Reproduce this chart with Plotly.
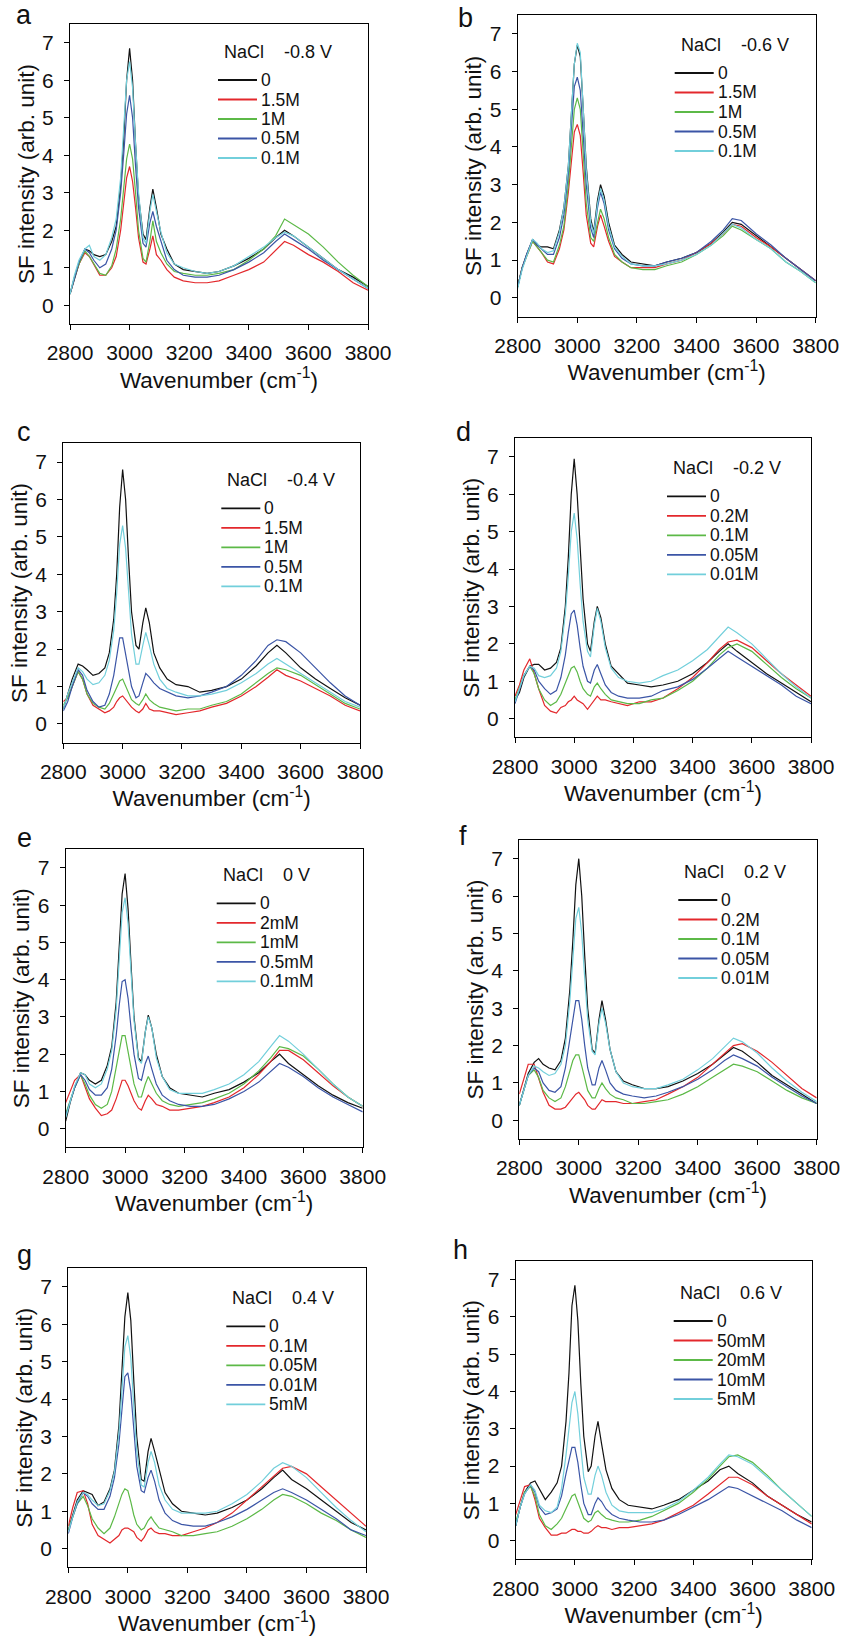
import plotly.graph_objects as go

W, H = 845, 1637

# Shared wavenumber grid (cm^-1)
wavenumber = [2800, 2815, 2830, 2850, 2865, 2880, 2900, 2920, 2940, 2955,
              2970, 2980, 2990, 3000, 3010, 3020, 3030, 3045, 3055, 3068,
              3078, 3090, 3105, 3125, 3150, 3180, 3220, 3260, 3300, 3350,
              3400, 3450, 3490, 3520, 3550, 3600, 3650, 3700, 3750, 3800]

panel_letters = ["a", "b", "c", "d", "e", "f", "g", "h"]
potentials = ["-0.8 V", "-0.6 V", "-0.4 V", "-0.2 V", "0 V", "0.2 V", "0.4 V", "0.6 V"]
concentrations = [
    ["0", "1.5M", "1M", "0.5M", "0.1M"],
    ["0", "1.5M", "1M", "0.5M", "0.1M"],
    ["0", "1.5M", "1M", "0.5M", "0.1M"],
    ["0", "0.2M", "0.1M", "0.05M", "0.01M"],
    ["0", "2mM", "1mM", "0.5mM", "0.1mM"],
    ["0", "0.2M", "0.1M", "0.05M", "0.01M"],
    ["0", "0.1M", "0.05M", "0.01M", "5mM"],
    ["0", "50mM", "20mM", "10mM", "5mM"],
]

# ---- panel a (-0.8 V) ----
a_0 = [0.3, 0.7, 1.1, 1.5, 1.45, 1.35, 1.3, 1.35, 1.7, 2.1, 3.2, 4.4, 6.0, 6.85, 6.0, 4.3, 2.9, 1.9, 1.75, 2.6, 3.1, 2.6, 1.9, 1.5, 1.1, 0.95, 0.9, 0.85, 0.9, 1.05, 1.25, 1.5, 1.8, 2.0, 1.85, 1.55, 1.25, 0.95, 0.75, 0.5]
a_1 = [0.3, 0.75, 1.1, 1.4, 1.3, 1.1, 0.8, 0.8, 1.0, 1.3, 2.0, 2.7, 3.4, 3.7, 3.3, 2.6, 1.8, 1.15, 1.1, 1.5, 1.85, 1.35, 1.2, 0.95, 0.75, 0.65, 0.6, 0.6, 0.65, 0.8, 0.95, 1.15, 1.45, 1.7, 1.6, 1.35, 1.15, 0.9, 0.6, 0.4]
a_2 = [0.3, 0.75, 1.1, 1.45, 1.3, 1.1, 0.85, 0.8, 1.05, 1.5, 2.3, 3.1, 3.9, 4.3, 3.9, 3.0, 2.0, 1.25, 1.15, 1.7, 2.25, 1.7, 1.4, 1.1, 0.9, 0.85, 0.8, 0.8, 0.85, 0.95, 1.2, 1.5, 1.85, 2.3, 2.15, 1.9, 1.55, 1.15, 0.8, 0.5]
a_3 = [0.3, 0.75, 1.15, 1.5, 1.4, 1.2, 1.0, 1.1, 1.5, 2.0, 3.0, 4.0, 5.1, 5.6, 5.0, 3.7, 2.6, 1.65, 1.55, 2.2, 2.5, 2.1, 1.7, 1.2, 0.95, 0.8, 0.75, 0.75, 0.8, 0.95, 1.15, 1.4, 1.7, 1.9, 1.75, 1.5, 1.2, 0.95, 0.7, 0.45]
a_4 = [0.3, 0.8, 1.2, 1.5, 1.6, 1.3, 1.2, 1.35, 1.8, 2.3, 3.4, 4.6, 6.0, 6.5, 5.8, 4.3, 3.0, 1.8, 1.65, 2.5, 2.95, 2.5, 1.95, 1.4, 1.1, 1.0, 0.9, 0.85, 0.9, 1.05, 1.3, 1.55, 1.8, 1.95, 1.85, 1.55, 1.25, 0.95, 0.7, 0.45]

# ---- panel b (-0.6 V) ----
b_0 = [0.3, 0.8, 1.15, 1.55, 1.4, 1.35, 1.35, 1.3, 1.8, 2.4, 3.5, 4.8, 6.2, 6.7, 6.4, 5.0, 3.5, 2.1, 1.75, 2.6, 3.0, 2.7, 2.0, 1.4, 1.15, 0.95, 0.9, 0.85, 0.95, 1.05, 1.2, 1.45, 1.75, 2.0, 1.95, 1.65, 1.35, 1.05, 0.75, 0.45]
b_1 = [0.3, 0.8, 1.1, 1.5, 1.35, 1.2, 0.95, 0.9, 1.3, 1.8, 2.8, 3.6, 4.4, 4.6, 4.3, 3.3, 2.2, 1.45, 1.35, 1.9, 2.2, 1.9, 1.5, 1.1, 0.95, 0.8, 0.8, 0.8, 0.9, 1.0, 1.2, 1.45, 1.7, 1.95, 1.9, 1.6, 1.35, 1.05, 0.75, 0.45]
b_2 = [0.3, 0.8, 1.1, 1.5, 1.35, 1.2, 1.0, 0.95, 1.4, 1.9, 3.0, 4.0, 5.0, 5.3, 5.0, 3.8, 2.5, 1.6, 1.5, 2.0, 2.35, 2.1, 1.6, 1.15, 0.95, 0.8, 0.75, 0.75, 0.85, 0.95, 1.15, 1.4, 1.65, 1.9, 1.8, 1.55, 1.3, 0.95, 0.7, 0.4]
b_3 = [0.3, 0.8, 1.15, 1.55, 1.4, 1.3, 1.15, 1.15, 1.6, 2.2, 3.3, 4.5, 5.6, 5.85, 5.5, 4.3, 3.0, 1.85, 1.6, 2.4, 2.8, 2.5, 1.8, 1.3, 1.05, 0.9, 0.85, 0.85, 0.95, 1.05, 1.2, 1.5, 1.8, 2.1, 2.05, 1.7, 1.4, 1.05, 0.75, 0.45]
b_4 = [0.25, 0.75, 1.1, 1.55, 1.45, 1.3, 1.2, 1.25, 1.75, 2.4, 3.5, 4.8, 6.2, 6.75, 6.5, 5.0, 3.4, 2.0, 1.7, 2.5, 2.9, 2.6, 1.9, 1.35, 1.1, 0.9, 0.85, 0.85, 0.9, 1.0, 1.15, 1.4, 1.7, 1.95, 1.85, 1.55, 1.3, 0.95, 0.7, 0.4]

# ---- panel c (-0.4 V) ----
c_0 = [0.4, 0.8, 1.2, 1.6, 1.55, 1.45, 1.3, 1.35, 1.5, 1.9, 2.8, 4.0, 5.8, 6.8, 6.0, 4.4, 3.0, 2.1, 2.0, 2.7, 3.1, 2.7, 1.9, 1.5, 1.2, 1.05, 1.0, 0.85, 0.9, 1.0, 1.2, 1.55, 1.9, 2.1, 1.9, 1.5, 1.2, 0.95, 0.7, 0.5]
c_1 = [0.6, 0.7, 1.0, 1.4, 1.2, 0.8, 0.5, 0.4, 0.3, 0.35, 0.45, 0.6, 0.7, 0.75, 0.65, 0.55, 0.45, 0.35, 0.3, 0.4, 0.55, 0.4, 0.35, 0.35, 0.3, 0.25, 0.3, 0.35, 0.45, 0.55, 0.75, 1.0, 1.25, 1.45, 1.3, 1.15, 0.95, 0.75, 0.5, 0.35]
c_2 = [0.5, 0.7, 1.0, 1.4, 1.2, 0.8, 0.55, 0.45, 0.4, 0.55, 0.8, 1.0, 1.15, 1.2, 1.0, 0.85, 0.65, 0.55, 0.5, 0.65, 0.8, 0.65, 0.55, 0.45, 0.4, 0.35, 0.4, 0.4, 0.5, 0.6, 0.8, 1.1, 1.35, 1.5, 1.45, 1.3, 1.05, 0.8, 0.55, 0.4]
c_3 = [0.35, 0.6, 1.0, 1.45, 1.3, 0.9, 0.6, 0.45, 0.5, 0.8, 1.3, 1.8, 2.3, 2.3, 1.9, 1.4, 1.0, 0.7, 0.75, 1.1, 1.35, 1.25, 1.1, 0.95, 0.85, 0.75, 0.7, 0.75, 0.85, 1.0, 1.3, 1.7, 2.1, 2.25, 2.2, 1.9, 1.5, 1.1, 0.75, 0.5]
c_4 = [0.4, 0.8, 1.1, 1.5, 1.4, 1.2, 1.05, 1.1, 1.3, 1.7, 2.5, 3.5, 4.8, 5.3, 4.7, 3.4, 2.4, 1.6, 1.6, 2.1, 2.45, 2.1, 1.6, 1.2, 0.95, 0.85, 0.75, 0.75, 0.8, 0.9, 1.1, 1.35, 1.6, 1.75, 1.6, 1.35, 1.1, 0.85, 0.6, 0.45]

# ---- panel d (-0.2 V) ----
d_0 = [0.5, 0.7, 1.1, 1.4, 1.45, 1.45, 1.3, 1.35, 1.5, 1.9, 3.0, 4.3, 6.0, 6.95, 6.0, 4.5, 3.2, 2.0, 1.8, 2.6, 3.0, 2.7, 2.0, 1.4, 1.2, 0.95, 0.9, 0.85, 0.9, 1.0, 1.2, 1.5, 1.8, 2.0, 1.8, 1.5, 1.2, 0.95, 0.7, 0.45]
d_1 = [0.6, 0.9, 1.3, 1.6, 1.2, 0.8, 0.35, 0.2, 0.15, 0.3, 0.35, 0.45, 0.5, 0.6, 0.5, 0.45, 0.4, 0.25, 0.35, 0.5, 0.6, 0.5, 0.5, 0.45, 0.4, 0.35, 0.45, 0.45, 0.55, 0.8, 1.1, 1.5, 1.85, 2.05, 2.1, 1.9, 1.55, 1.2, 0.9, 0.6]
d_2 = [0.5, 0.8, 1.15, 1.4, 1.2, 0.8, 0.5, 0.35, 0.45, 0.65, 0.95, 1.2, 1.35, 1.4, 1.25, 1.0, 0.8, 0.65, 0.6, 0.85, 0.95, 0.8, 0.65, 0.5, 0.45, 0.4, 0.4, 0.5, 0.55, 0.75, 1.0, 1.35, 1.7, 1.9, 2.0, 1.8, 1.45, 1.1, 0.8, 0.55]
d_3 = [0.4, 0.8, 1.15, 1.4, 1.3, 1.0, 0.8, 0.65, 0.75, 1.1, 1.7, 2.3, 2.8, 2.9, 2.5, 1.9, 1.4, 1.0, 0.95, 1.3, 1.45, 1.2, 0.9, 0.7, 0.6, 0.55, 0.55, 0.6, 0.75, 0.85, 1.05, 1.35, 1.6, 1.8, 1.65, 1.4, 1.15, 0.9, 0.6, 0.4]
d_4 = [0.45, 0.8, 1.15, 1.4, 1.35, 1.15, 1.1, 1.15, 1.35, 1.8, 2.8, 3.8, 5.0, 5.5, 4.8, 3.6, 2.6, 1.8, 1.65, 2.5, 2.95, 2.6, 1.9, 1.35, 1.1, 1.0, 0.95, 1.0, 1.15, 1.3, 1.55, 1.85, 2.2, 2.45, 2.3, 2.0, 1.6, 1.2, 0.85, 0.55]

# ---- panel e (0 V) ----
e_0 = [0.2, 0.7, 1.1, 1.5, 1.45, 1.3, 1.2, 1.3, 1.7, 2.2, 3.4, 4.8, 6.3, 6.85, 5.9, 4.4, 3.0, 1.9, 1.8, 2.6, 3.05, 2.7, 2.0, 1.4, 1.1, 0.95, 0.9, 0.85, 0.95, 1.05, 1.25, 1.5, 1.8, 2.0, 1.75, 1.45, 1.15, 0.9, 0.7, 0.55]
e_1 = [0.7, 1.0, 1.3, 1.45, 1.1, 0.8, 0.55, 0.35, 0.4, 0.5, 0.8, 1.05, 1.3, 1.3, 1.15, 0.95, 0.75, 0.55, 0.5, 0.75, 0.9, 0.8, 0.65, 0.6, 0.5, 0.5, 0.55, 0.6, 0.7, 0.85, 1.1, 1.45, 1.8, 2.1, 2.1, 1.85, 1.5, 1.15, 0.85, 0.6]
e_2 = [0.4, 0.75, 1.1, 1.45, 1.2, 0.9, 0.65, 0.55, 0.65, 1.0, 1.6, 2.1, 2.5, 2.5, 2.1, 1.6, 1.2, 0.85, 0.85, 1.2, 1.4, 1.2, 0.95, 0.75, 0.65, 0.6, 0.65, 0.7, 0.8, 0.95, 1.2, 1.55, 1.9, 2.2, 2.15, 1.95, 1.6, 1.2, 0.85, 0.6]
e_3 = [0.35, 0.75, 1.1, 1.45, 1.3, 1.05, 0.9, 0.9, 1.1, 1.6, 2.5, 3.3, 3.95, 4.0, 3.5, 2.7, 2.0, 1.35, 1.3, 1.75, 1.95, 1.6, 1.2, 0.9, 0.75, 0.65, 0.6, 0.6, 0.65, 0.8, 1.0, 1.25, 1.55, 1.75, 1.65, 1.4, 1.1, 0.85, 0.65, 0.45]
e_4 = [0.3, 0.75, 1.15, 1.5, 1.45, 1.2, 1.1, 1.2, 1.6, 2.1, 3.2, 4.5, 5.8, 6.2, 5.5, 4.2, 2.9, 1.85, 1.75, 2.6, 3.0, 2.7, 1.9, 1.4, 1.05, 0.95, 0.95, 0.95, 1.05, 1.2, 1.45, 1.8, 2.2, 2.5, 2.35, 2.0, 1.6, 1.2, 0.85, 0.6]

# ---- panel f (0.2 V) ----
f_0 = [0.4, 0.8, 1.25, 1.55, 1.65, 1.5, 1.4, 1.35, 1.6, 2.2, 3.5, 4.8, 6.3, 7.0, 6.0, 4.4, 3.0, 1.9, 1.8, 2.7, 3.2, 2.7, 1.9, 1.3, 1.05, 0.95, 0.85, 0.85, 0.9, 1.05, 1.25, 1.5, 1.75, 1.95, 1.85, 1.55, 1.2, 0.95, 0.7, 0.45]
f_1 = [0.7, 1.1, 1.5, 1.5, 1.1, 0.75, 0.4, 0.3, 0.3, 0.35, 0.5, 0.6, 0.7, 0.75, 0.65, 0.55, 0.4, 0.3, 0.3, 0.45, 0.55, 0.5, 0.5, 0.5, 0.45, 0.45, 0.5, 0.55, 0.7, 0.9, 1.15, 1.5, 1.8, 2.0, 2.05, 1.85, 1.55, 1.2, 0.85, 0.6]
f_2 = [0.4, 0.8, 1.2, 1.35, 1.15, 0.8, 0.6, 0.5, 0.6, 0.9, 1.3, 1.6, 1.75, 1.75, 1.45, 1.1, 0.8, 0.6, 0.6, 0.85, 1.0, 0.85, 0.7, 0.6, 0.55, 0.45, 0.45, 0.5, 0.55, 0.7, 0.9, 1.15, 1.35, 1.5, 1.45, 1.3, 1.05, 0.8, 0.6, 0.45]
f_3 = [0.4, 0.8, 1.2, 1.4, 1.3, 1.0, 0.8, 0.75, 0.9, 1.4, 2.2, 2.8, 3.2, 3.2, 2.7, 2.0, 1.4, 0.95, 0.95, 1.4, 1.6, 1.35, 1.0, 0.8, 0.7, 0.65, 0.6, 0.65, 0.75, 0.9, 1.1, 1.35, 1.6, 1.75, 1.65, 1.45, 1.15, 0.9, 0.65, 0.45]
f_4 = [0.4, 0.8, 1.2, 1.45, 1.4, 1.3, 1.2, 1.25, 1.5, 2.0, 3.2, 4.3, 5.4, 5.7, 5.0, 3.8, 2.7, 1.85, 1.75, 2.6, 3.0, 2.6, 1.9, 1.3, 1.0, 0.9, 0.85, 0.85, 0.95, 1.1, 1.35, 1.65, 1.95, 2.2, 2.1, 1.8, 1.4, 1.05, 0.75, 0.5]

# ---- panel g (0.4 V) ----
g_0 = [0.5, 0.9, 1.3, 1.55, 1.5, 1.45, 1.15, 1.25, 1.6, 2.1, 3.3, 4.6, 6.2, 6.85, 6.1, 4.5, 3.0, 1.85, 1.8, 2.6, 2.95, 2.6, 2.1, 1.5, 1.2, 1.0, 0.95, 0.9, 0.95, 1.1, 1.3, 1.6, 1.9, 2.1, 1.85, 1.6, 1.3, 1.0, 0.7, 0.5]
g_1 = [0.6, 1.1, 1.5, 1.55, 1.2, 0.65, 0.35, 0.25, 0.15, 0.25, 0.35, 0.5, 0.55, 0.55, 0.5, 0.45, 0.3, 0.2, 0.3, 0.5, 0.55, 0.45, 0.4, 0.4, 0.35, 0.35, 0.45, 0.55, 0.7, 0.95, 1.3, 1.65, 1.95, 2.15, 2.2, 2.0, 1.65, 1.3, 0.95, 0.6]
g_2 = [0.5, 0.85, 1.2, 1.4, 1.15, 0.8, 0.55, 0.4, 0.55, 0.85, 1.2, 1.45, 1.6, 1.55, 1.25, 0.9, 0.65, 0.5, 0.55, 0.75, 0.85, 0.7, 0.55, 0.5, 0.45, 0.35, 0.35, 0.4, 0.45, 0.6, 0.8, 1.05, 1.3, 1.45, 1.4, 1.2, 0.95, 0.75, 0.5, 0.3]
g_3 = [0.4, 0.85, 1.2, 1.5, 1.4, 1.2, 1.05, 1.05, 1.4, 1.9, 2.8, 3.7, 4.6, 4.7, 4.2, 3.2, 2.2, 1.55, 1.5, 1.9, 2.1, 1.8, 1.3, 0.95, 0.75, 0.65, 0.6, 0.6, 0.7, 0.85, 1.05, 1.3, 1.5, 1.6, 1.5, 1.3, 1.05, 0.8, 0.5, 0.35]
g_4 = [0.45, 0.85, 1.25, 1.5, 1.45, 1.3, 1.15, 1.2, 1.55, 2.05, 3.1, 4.2, 5.4, 5.7, 5.1, 3.8, 2.6, 1.7, 1.65, 2.3, 2.6, 2.3, 1.7, 1.3, 1.05, 0.95, 0.95, 0.95, 1.0, 1.2, 1.45, 1.8, 2.15, 2.3, 2.2, 1.9, 1.5, 1.1, 0.75, 0.45]

# ---- panel h (0.6 V) ----
h_0 = [0.4, 0.9, 1.3, 1.55, 1.6, 1.4, 1.1, 1.3, 1.55, 2.0, 3.2, 4.5, 6.3, 6.85, 5.9, 4.2, 2.8, 1.85, 2.0, 2.8, 3.2, 2.6, 1.9, 1.4, 1.1, 0.95, 0.9, 0.85, 0.95, 1.1, 1.35, 1.6, 1.9, 2.0, 1.8, 1.55, 1.2, 0.95, 0.7, 0.5]
h_1 = [0.7, 1.1, 1.45, 1.5, 1.1, 0.6, 0.35, 0.15, 0.15, 0.2, 0.2, 0.25, 0.3, 0.3, 0.25, 0.25, 0.2, 0.2, 0.25, 0.35, 0.4, 0.35, 0.35, 0.3, 0.35, 0.35, 0.4, 0.45, 0.55, 0.75, 0.95, 1.25, 1.5, 1.7, 1.7, 1.5, 1.2, 0.95, 0.7, 0.45]
h_2 = [0.5, 0.9, 1.3, 1.45, 1.2, 0.7, 0.4, 0.3, 0.45, 0.6, 0.85, 1.05, 1.2, 1.25, 1.05, 0.8, 0.6, 0.5, 0.55, 0.75, 0.8, 0.7, 0.6, 0.55, 0.5, 0.5, 0.55, 0.65, 0.8, 1.0, 1.3, 1.65, 2.0, 2.25, 2.3, 2.1, 1.75, 1.35, 1.0, 0.65]
h_3 = [0.4, 0.9, 1.25, 1.5, 1.3, 0.9, 0.7, 0.75, 0.85, 1.2, 1.8, 2.2, 2.5, 2.5, 2.1, 1.5, 1.0, 0.7, 0.7, 1.0, 1.15, 1.05, 0.85, 0.7, 0.6, 0.55, 0.5, 0.5, 0.55, 0.7, 0.9, 1.1, 1.3, 1.45, 1.4, 1.2, 1.0, 0.8, 0.55, 0.35]
h_4 = [0.4, 0.9, 1.25, 1.5, 1.35, 0.95, 0.8, 0.75, 0.9, 1.4, 2.3, 3.0, 3.7, 4.0, 3.4, 2.5, 1.7, 1.25, 1.25, 1.75, 2.0, 1.75, 1.3, 0.95, 0.8, 0.75, 0.75, 0.75, 0.85, 1.05, 1.35, 1.7, 2.05, 2.3, 2.25, 2.05, 1.7, 1.35, 1.0, 0.65]

panels = [
    [a_0, a_1, a_2, a_3, a_4],
    [b_0, b_1, b_2, b_3, b_4],
    [c_0, c_1, c_2, c_3, c_4],
    [d_0, d_1, d_2, d_3, d_4],
    [e_0, e_1, e_2, e_3, e_4],
    [f_0, f_1, f_2, f_3, f_4],
    [g_0, g_1, g_2, g_3, g_4],
    [h_0, h_1, h_2, h_3, h_4],
]

colors = ["#111111", "#e3282c", "#5cb947", "#3b55a6", "#72cfdb"]

# plot boxes in pixels: left, right, top, bottom
boxes = [
    (70, 368, 24, 324), (517.7, 815.7, 15, 316.7),
    (63.3, 360, 443.3, 742.7), (515, 811, 438.3, 737.3),
    (65.7, 362.7, 849.3, 1147.3), (519.3, 816.7, 840, 1139),
    (68.3, 366, 1268.3, 1567.3), (515.7, 811.7, 1261, 1559.3),
]
# legend offsets relative to box (dx of line start, dy of title)
leg_off = [(148, 28), (157, 30), (158, 37), (152, 30), (151, 26), (159, 32), (158, 30), (158, 32)]
letter_pos = [(24, 15), (465, 18), (24, 432), (464, 432), (24, 838), (463, 836), (24, 1255), (460, 1250)]

FONT = "Liberation Sans, Arial, sans-serif"

def px(x):
    return x / W

def py(y):
    return 1 - y / H

fig = go.Figure()
annotations = []
shapes = []

for i, series in enumerate(panels):
    L, R, T, B = boxes[i]
    k = "" if i == 0 else str(i + 1)
    for j, ys in enumerate(series):
        fig.add_trace(go.Scatter(
            x=wavenumber, y=ys, mode="lines",
            line=dict(color=colors[j], width=1.2),
            name=concentrations[i][j], showlegend=False,
            xaxis="x" + k, yaxis="y" + k,
        ))
    axis_common = dict(showline=True, linecolor="black", linewidth=1.3, mirror=True,
                       ticks="outside", ticklen=5, tickwidth=1.3, tickcolor="black",
                       showgrid=False, zeroline=False, automargin=False,
                       tickfont=dict(family=FONT, size=21, color="#111"))
    fig.layout["xaxis" + k] = dict(
        axis_common, domain=[px(L), px(R)], anchor="y" + k,
        range=[2800, 3800], tickvals=[2800, 3000, 3200, 3400, 3600, 3800],
        ticklabelstandoff=5,
        title=dict(text="Wavenumber (cm<sup>-1</sup>)", standoff=6,
                   font=dict(family=FONT, size=22.5, color="#111")),
    )
    fig.layout["yaxis" + k] = dict(
        axis_common, domain=[py(B), py(T)], anchor="x" + k,
        range=[-0.5, 7.5], tickvals=[0, 1, 2, 3, 4, 5, 6, 7],
        ticklabelstandoff=6,
        title=dict(text="SF intensity (arb. unit)", standoff=1,
                   font=dict(family=FONT, size=22.5, color="#111")),
    )
    # panel letter
    lx, ly = letter_pos[i]
    annotations.append(dict(text=panel_letters[i], x=px(lx), y=py(ly), xref="paper", yref="paper",
                            xanchor="center", yanchor="middle", showarrow=False,
                            font=dict(family=FONT, size=27, color="#111")))
    # legend
    dx, dy = leg_off[i]
    annotations.append(dict(text="NaCl", x=px(L + dx + 4), y=py(T + dy), xref="paper", yref="paper",
                            xanchor="left", yanchor="middle", showarrow=False,
                            font=dict(family=FONT, size=18, color="#111")))
    annotations.append(dict(text=potentials[i], x=px(L + dx + 64), y=py(T + dy), xref="paper", yref="paper",
                            xanchor="left", yanchor="middle", showarrow=False,
                            font=dict(family=FONT, size=18, color="#111")))
    for j in range(5):
        yy = T + dy + 28 + 19.5 * j
        shapes.append(dict(type="line", xref="paper", yref="paper",
                           x0=px(L + dx), x1=px(L + dx + 39), y0=py(yy), y1=py(yy),
                           line=dict(color=colors[j], width=1.8)))
        annotations.append(dict(text=concentrations[i][j], x=px(L + dx + 41), y=py(yy),
                                xref="paper", yref="paper", xanchor="left", yanchor="middle",
                                showarrow=False, font=dict(family=FONT, size=17.5, color="#111")))

fig.update_layout(
    width=W, height=H, margin=dict(l=0, r=0, t=0, b=0),
    paper_bgcolor="white", plot_bgcolor="white",
    annotations=annotations, shapes=shapes,
    font=dict(family=FONT, color="#111"),
)

fig.write_html("out.html", config={"displayModeBar": False},
               post_script="document.body.style.margin='0';document.body.style.padding='0';")
